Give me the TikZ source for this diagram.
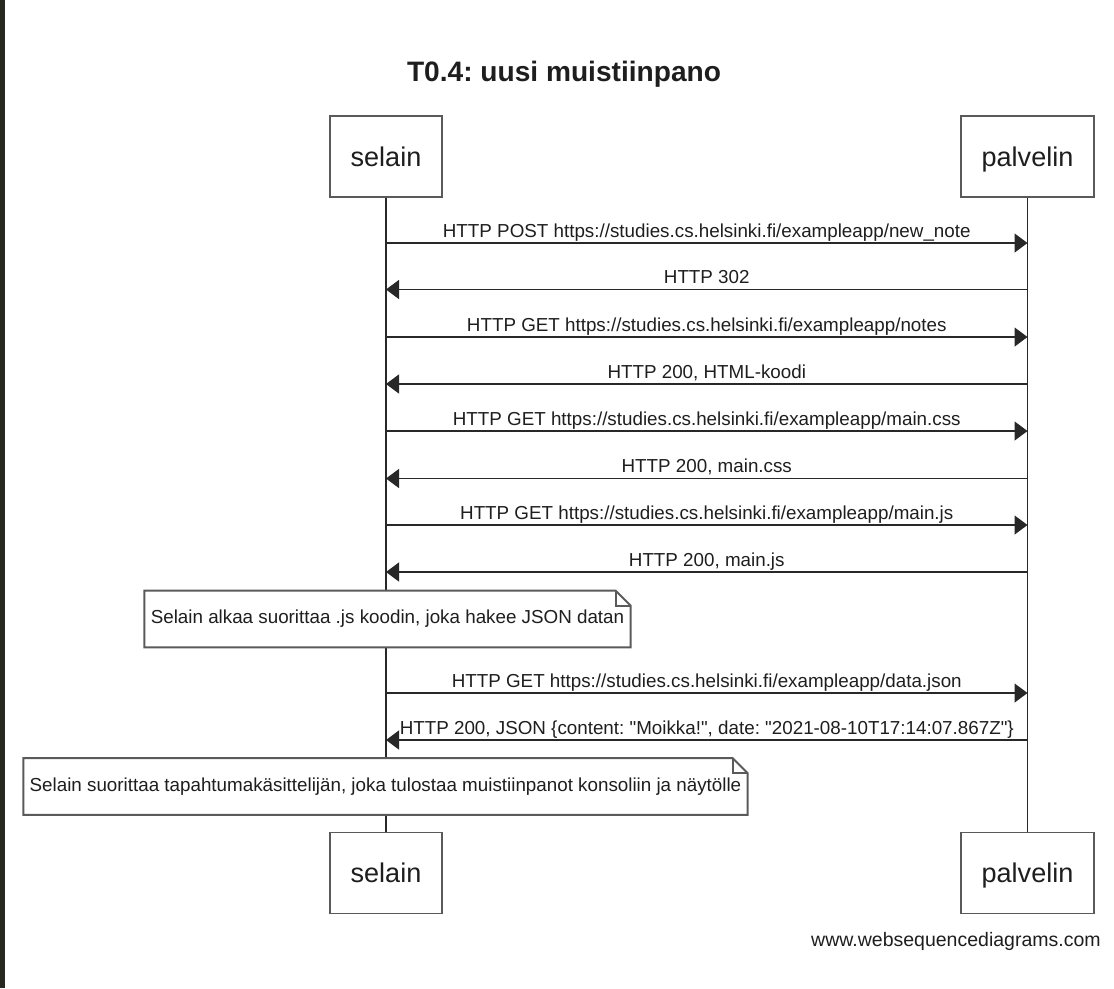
\documentclass[tikz,border=0pt]{standalone}
\usepackage{fontspec}
\setmainfont{Liberation Sans}
\usepackage{xcolor}
\usepackage{tikz}
\usetikzlibrary{arrows.meta,positioning}
\definecolor{boxgray}{RGB}{90, 90, 90}
\definecolor{linegray}{RGB}{40, 40, 40}
\definecolor{textgray}{RGB}{30, 30, 30}
\definecolor{editorbar}{RGB}{39, 40, 34}
\frenchspacing

\begin{document}
\begin{tikzpicture}[x=0.02cm, y=-0.02cm,
    actor/.style={draw=boxgray, line width=1.1pt, fill=white, minimum height=1.62cm,
                  inner xsep=0.42cm, text height=11.2pt, text depth=0pt, text=textgray,
                  font=\fontsize{15.4}{18}\selectfont},
    lifeline/.style={draw=linegray, line width=0.8pt},
    msg/.style={draw=linegray, line width=0.8pt, -{Triangle[length=0.26cm, width=0.38cm]}},
    lbl/.style={midway, anchor=base, yshift=0.12cm, inner sep=0pt, text=textgray,
                font=\fontsize{10.7}{13}\selectfont},
    notetext/.style={fill=white, inner xsep=0.12cm, inner ysep=0pt, minimum height=1.12cm,
                     text=textgray, font=\fontsize{10.7}{13}\selectfont},
    noteline/.style={draw=boxgray, line width=1.1pt}]
    \useasboundingbox (0,0) rectangle (1114,988);
    \fill[editorbar] (0,0) rectangle (5,988);

    % Title
    \node[anchor=base, text=textgray, font=\fontsize{16}{19}\bfseries] (title) at (564,81) {T0.4: uusi muistiinpano};

    % Participants
    \node[actor] (selainA) at (386,156.5) {selain};
    \node[actor] (palvelinA) at (1027.5,156.5) {palvelin};
    \node[actor] (selainB) at (386,873) {selain};
    \node[actor] (palvelinB) at (1027.5,873) {palvelin};

    \draw[lifeline] (selainA) -- (selainB);
    \draw[lifeline] (palvelinA) -- (palvelinB);

    % Messages
    \draw[msg] (selainA.south |- 0,243) -- node[lbl] {HTTP POST https://studies.cs.helsinki.fi/exampleapp/new\_note} (palvelinA.south |- 0,243);
    \draw[msg] (palvelinA.south |- 0,289.5) -- node[lbl] {HTTP 302} (selainA.south |- 0,289.5);
    \draw[msg] (selainA.south |- 0,337) -- node[lbl] {HTTP GET https://studies.cs.helsinki.fi/exampleapp/notes} (palvelinA.south |- 0,337);
    \draw[msg] (palvelinA.south |- 0,384) -- node[lbl] {HTTP 200, HTML-koodi} (selainA.south |- 0,384);
    \draw[msg] (selainA.south |- 0,431) -- node[lbl] {HTTP GET https://studies.cs.helsinki.fi/exampleapp/main.css} (palvelinA.south |- 0,431);
    \draw[msg] (palvelinA.south |- 0,478.5) -- node[lbl] {HTTP 200, main.css} (selainA.south |- 0,478.5);
    \draw[msg] (selainA.south |- 0,525) -- node[lbl] {HTTP GET https://studies.cs.helsinki.fi/exampleapp/main.js} (palvelinA.south |- 0,525);
    \draw[msg] (palvelinA.south |- 0,572) -- node[lbl] {HTTP 200, main.js} (selainA.south |- 0,572);

    % Note: JS starts
    \node[notetext] (runjs) at (387.5,619) {Selain alkaa suorittaa .js koodin, joka hakee JSON datan};
    \draw[noteline] (runjs.north west) -- ([xshift=-0.3cm]runjs.north east) -- ([yshift=-0.3cm]runjs.north east)
        -- (runjs.south east) -- (runjs.south west) -- cycle;
    \draw[noteline] ([xshift=-0.3cm]runjs.north east) |- ([yshift=-0.3cm]runjs.north east);

    \draw[msg] (selainA.south |- 0,693) -- node[lbl] {HTTP GET https://studies.cs.helsinki.fi/exampleapp/data.json} (palvelinA.south |- 0,693);
    \draw[msg] (palvelinA.south |- 0,740) -- node[lbl] {HTTP 200, JSON \{content: \textquotedbl Moikka!\textquotedbl, date: \textquotedbl 2021-08-10T17:14:07.867Z\textquotedbl\}} (selainA.south |- 0,740);

    % Note: event handler
    \node[notetext] (handler) at (385.5,786.5) {Selain suorittaa tapahtumakäsittelijän, joka tulostaa muistiinpanot konsoliin ja näytölle};
    \draw[noteline] (handler.north west) -- ([xshift=-0.3cm]handler.north east) -- ([yshift=-0.3cm]handler.north east)
        -- (handler.south east) -- (handler.south west) -- cycle;
    \draw[noteline] ([xshift=-0.3cm]handler.north east) |- ([yshift=-0.3cm]handler.north east);

    % Footer
    \node[anchor=base east, inner sep=0pt, text=textgray, font=\fontsize{11.1}{13}\selectfont] (footer) at (1101,946) {www.websequencediagrams.com};
\end{tikzpicture}
\end{document}
